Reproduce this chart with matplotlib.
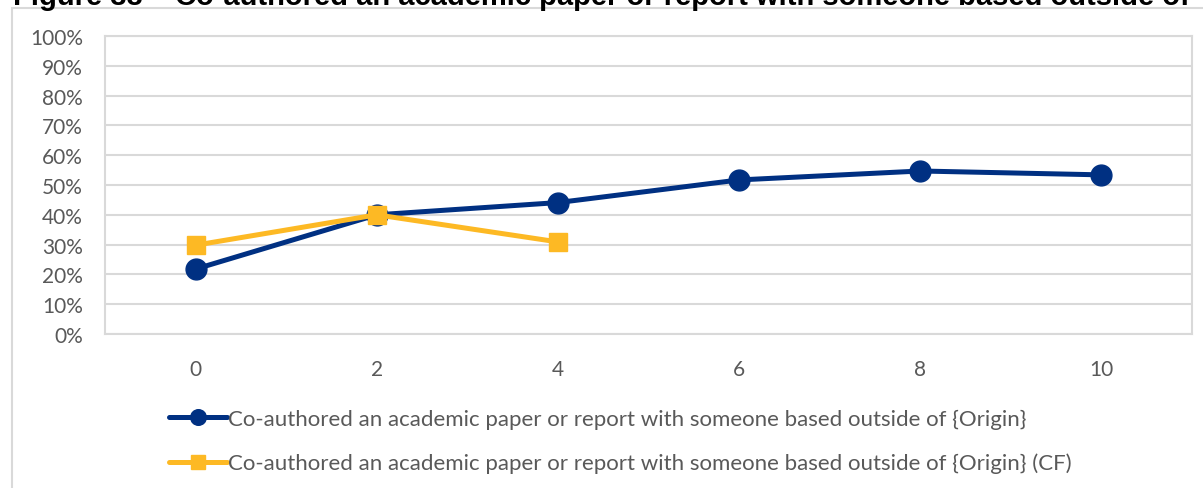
import matplotlib
matplotlib.use("Agg")
import matplotlib.pyplot as plt
from matplotlib.patches import Rectangle
from matplotlib.ticker import PercentFormatter

# Data
years = [0, 2, 4, 6, 8, 10]
coauthored = [0.218, 0.40, 0.441, 0.517, 0.547, 0.534]
years_cf = [0, 2, 4]
coauthored_cf = [0.298, 0.40, 0.309]
yticks = [i / 10 for i in range(11)]

label_main = "Co-authored an academic paper or report with someone based outside of {Origin}"
label_cf = "Co-authored an academic paper or report with someone based outside of {Origin} (CF)"
title = "Figure 38 \u2013 Co-authored an academic paper or report with someone based outside of"

NAVY = "#003082"
GOLD = "#FDB924"
GRID = "#D9D9D9"
TEXT = "#595959"

W, H = 1203, 489
fig = plt.figure(figsize=(W / 100, H / 100), dpi=100)

# Chart frame
fig.patches.append(Rectangle((12 / W, -0.1), 1.2, (H - 9) / H + 0.1,
                             transform=fig.transFigure, fill=False,
                             edgecolor=GRID, linewidth=1.5))

# Title, partially running off the top edge
t = fig.text(13 / W, 1 - 5 / H, title, ha="left", va="baseline",
             fontfamily="Liberation Sans", fontweight="bold", fontsize=18, color="black")
fig.canvas.draw()
ext = t.get_window_extent()
t.set_fontsize(18 * (1180 / ext.width))

ax = fig.add_axes([105 / W, (H - 335) / H, 1087 / W, 298 / H])
ax.plot(years, coauthored, color=NAVY, lw=3.6, marker="o", ms=15,
        solid_capstyle="round", label=label_main, zorder=3)
ax.plot(years_cf, coauthored_cf, color=GOLD, lw=3.6, marker="s", ms=13.5,
        solid_capstyle="round", label=label_cf, zorder=4)

ax.set_xlim(-1, 11)
ax.set_ylim(0, 1)
ax.set_xticks(years)
ax.set_yticks(yticks)
ax.yaxis.set_major_formatter(PercentFormatter(1.0, decimals=0))
ax.grid(axis="y", color=GRID, lw=1.5)
ax.set_axisbelow(True)
for s in ax.spines.values():
    s.set_color(GRID)
    s.set_linewidth(1.5)
ax.tick_params(axis="both", length=0, colors=TEXT, labelsize=15)
ax.tick_params(axis="y", pad=16)
ax.tick_params(axis="x", pad=18)
for lab in ax.get_xticklabels() + ax.get_yticklabels():
    lab.set_fontfamily("Lato")

leg = fig.legend(loc="upper left", bbox_to_anchor=(169 / W, 1 - 410 / H),
                 frameon=False, prop={"family": "Lato", "size": 16},
                 handlelength=2.6, handletextpad=0.05, labelspacing=1.06,
                 borderpad=0, borderaxespad=0, markerscale=0.75)
for txt in leg.get_texts():
    txt.set_color(TEXT)

fig.savefig("out.png", dpi=100)
